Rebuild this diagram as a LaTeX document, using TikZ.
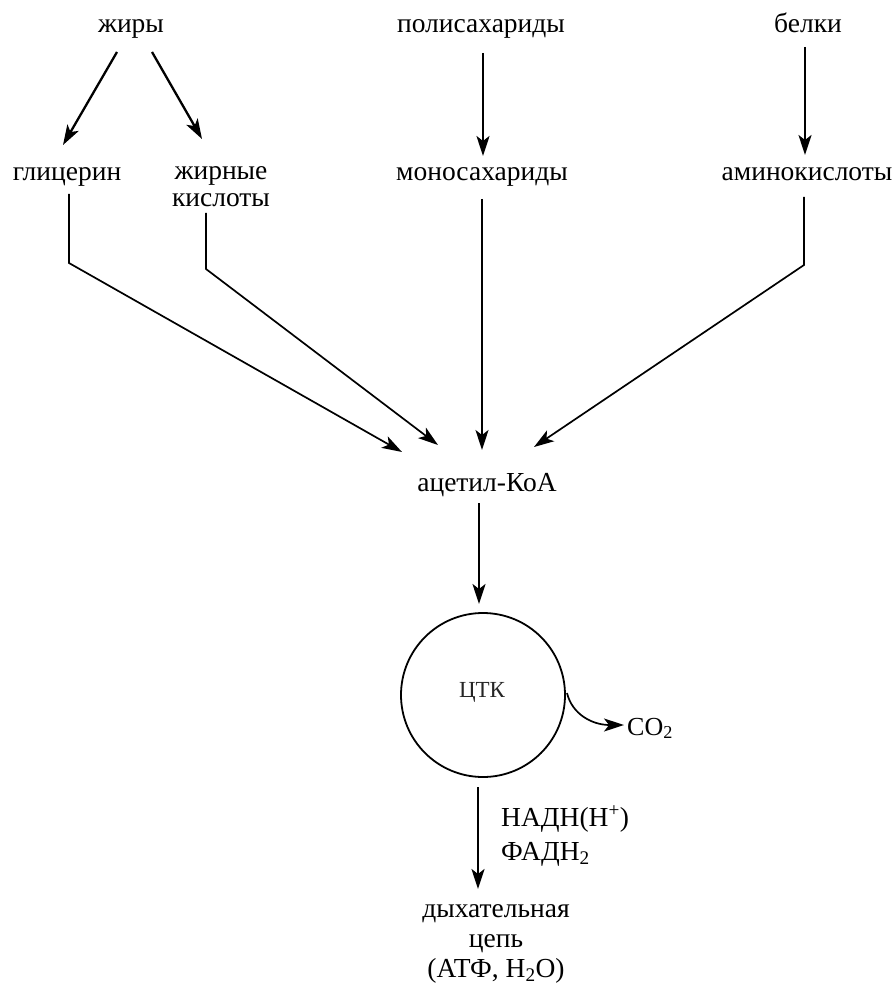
\documentclass[tikz,border=0pt]{standalone}
\usepackage{fontspec}
\setmainfont{Liberation Serif}
\usetikzlibrary{arrows.meta}
\begin{document}
\begin{tikzpicture}[x=1pt,y=-1pt,
  lbl/.style={inner sep=0pt, anchor=base, font=\fontsize{27.5}{30}\selectfont, align=center},
  arr/.style={-{Stealth[length=20pt,width=13pt,inset=5pt]}, line width=1.7pt},
  thk/.style={-{Stealth[length=20pt,width=13pt,inset=5pt]}, line width=2.3pt},
]
\useasboundingbox (0,0) rectangle (892,984);
% nodes
\node[lbl] (fat)   at (131,33)  {жиры};
\node[lbl] (poly)  at (481,33)  {полисахариды};
\node[lbl] (prot)  at (808,33)  {белки};
\node[lbl] (glyc)  at (67,181)  {глицерин};
\node[lbl] (fa)    at (221,207) {жирные\\[-3pt]кислоты};
\node[lbl] (mono)  at (482,181) {моносахариды};
\node[lbl] (amino) at (807,181) {аминокислоты};
\node[lbl] (acoa)  at (487,491) {ацетил-КоА};
\node[draw, circle, line width=1.8pt, minimum size=164pt, inner sep=0pt] (tca) at (483,695) {};
\node[inner sep=0pt, anchor=base, font=\fontsize{23}{28}\selectfont, text=black!85] (tcat) at (482,697) {ЦТК};
\node[lbl, anchor=base west, font=\fontsize{26}{30}\selectfont] (co2) at (627,735) {CO\textsubscript{2}};
\node[lbl, anchor=base west] (nadh) at (501,826) {НАДН(Н\textsuperscript{+})};
\node[lbl, anchor=base west] (fadh) at (501,860) {ФАДН\textsubscript{2}};
\node[lbl] (resp) at (496,977) {дыхательная\\цепь\\(АТФ, Н\textsubscript{2}О)};
% coordinates
\coordinate (f1) at (117,52);  \coordinate (f1t) at (63,145);
\coordinate (f2) at (152,52);  \coordinate (f2t) at (202,139);
\coordinate (p0) at (483,53);  \coordinate (p0t) at (483,156);
\coordinate (b0) at (805,47);  \coordinate (b0t) at (805,155);
\coordinate (g0) at (69,194);  \coordinate (g1) at (69,263);   \coordinate (gt) at (402,452);
\coordinate (k0) at (206,213); \coordinate (k1) at (206,269);  \coordinate (kt) at (438,445);
\coordinate (m0) at (482,199); \coordinate (mt) at (482,450);
\coordinate (a0) at (804,197); \coordinate (a1) at (804,265);  \coordinate (at) at (534,447);
\coordinate (c0) at (479,503); \coordinate (ct) at (479,604);
\coordinate (o0) at (567,693); \coordinate (ot) at (624,725);
\coordinate (r0) at (478,787); \coordinate (rt) at (478,889);
% connectors
\draw[thk] (f1) -- (f1t);
\draw[thk] (f2) -- (f2t);
\draw[thk] (p0) -- (p0t);
\draw[thk] (b0) -- (b0t);
\draw[arr] (g0) -- (g1) -- (gt);
\draw[arr] (k0) -- (k1) -- (kt);
\draw[arr] (m0) -- (mt);
\draw[arr] (a0) -- (a1) -- (at);
\draw[thk] (c0) -- (ct);
\draw[arr] (o0) .. controls (572,714) and (592,725) .. (ot);
\draw[thk] (r0) -- (rt);
\end{tikzpicture}
\end{document}
